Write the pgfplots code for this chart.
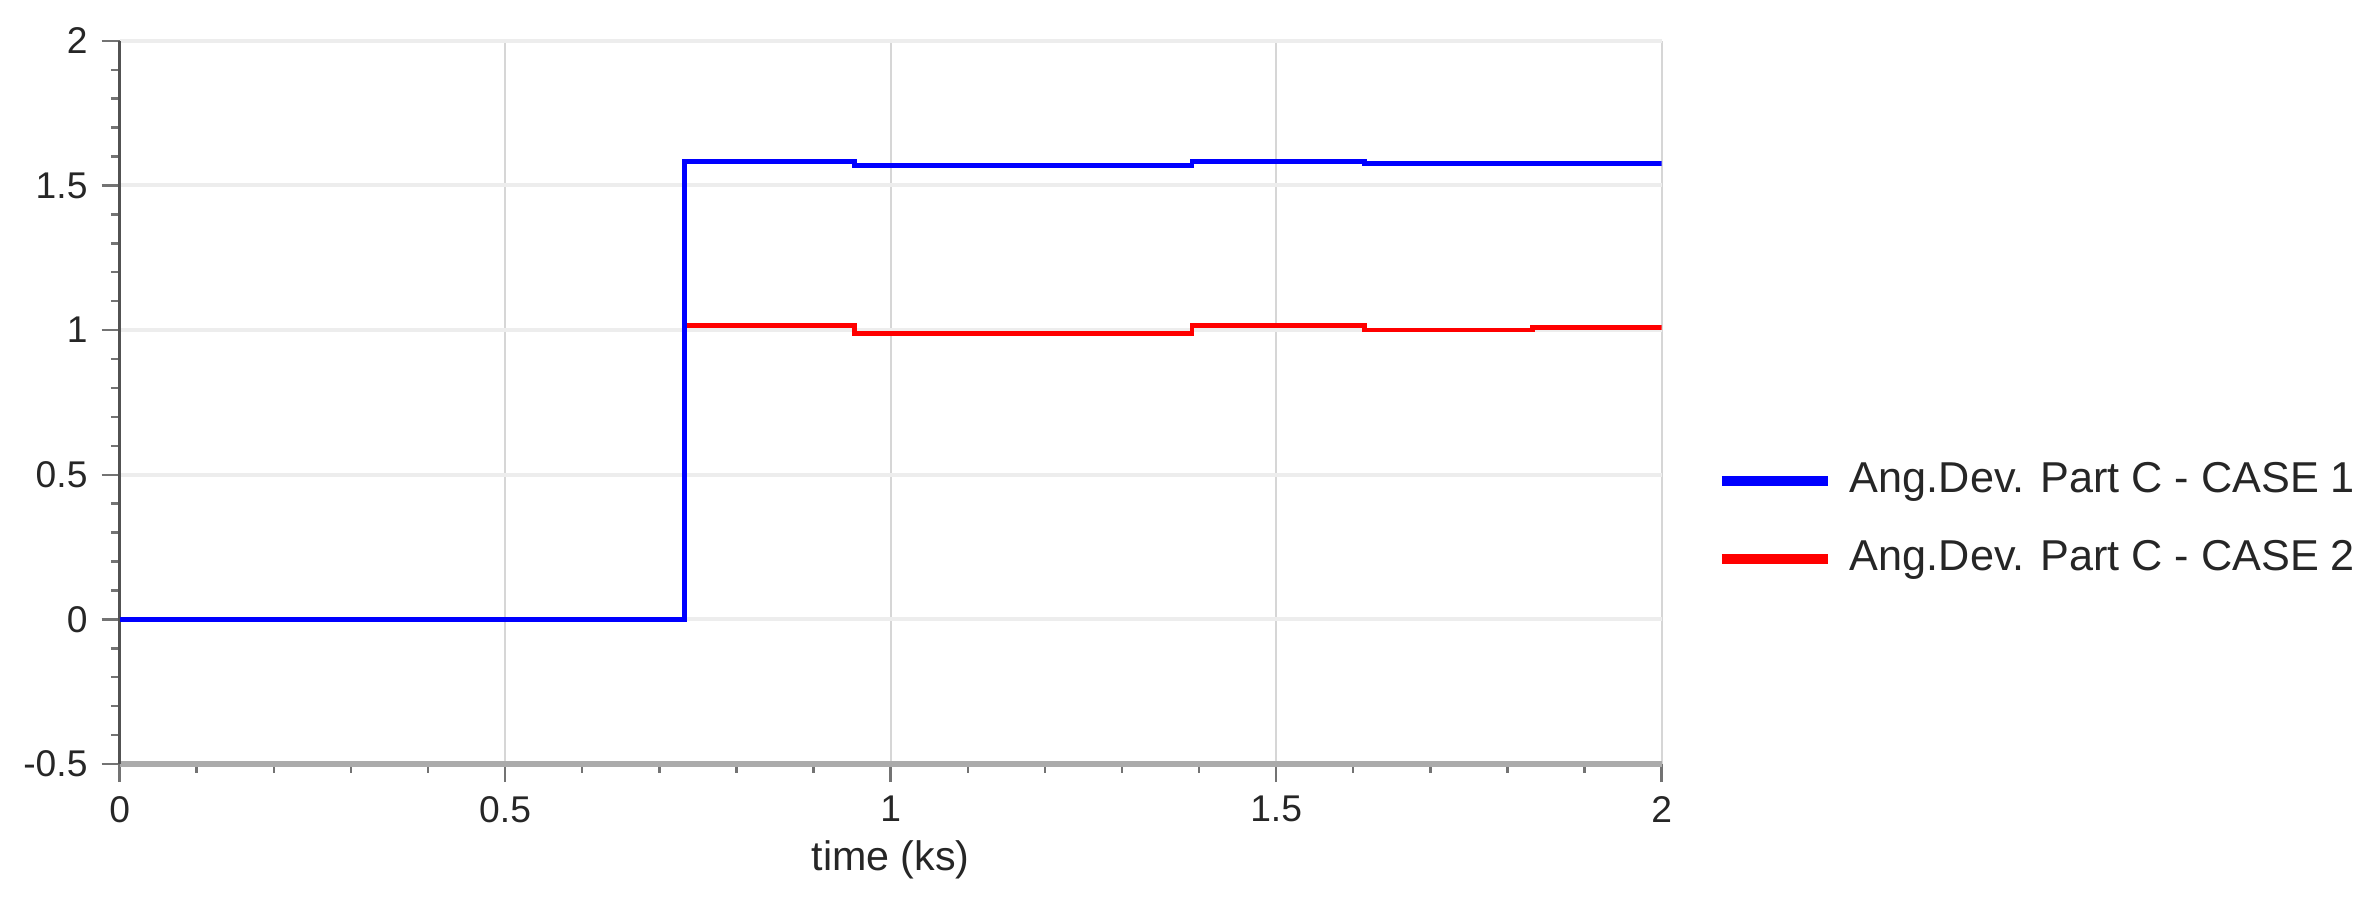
\documentclass[border=0pt]{standalone}
\usepackage{fontspec}
\setmainfont{Liberation Sans}
\usepackage{pgfplots}
\pgfplotsset{compat=1.18}
\definecolor{cblue}{RGB}{0,0,255}
\definecolor{cred}{RGB}{255,0,0}
\begin{document}
\begin{tikzpicture}
\path[use as bounding box] (0,0) rectangle (594pt,225.75pt);
\begin{axis}[
  at={(29.9pt,34.75pt)}, anchor=south west,
  scale only axis, width=385.5pt, height=180.8pt,
  xmin=0, xmax=2, ymin=-0.5, ymax=2,
  xtick={0,0.5,1,1.5,2}, ytick={-0.5,0,0.5,1,1.5,2},
  minor x tick num=4, minor y tick num=4,
  axis x line*=bottom, axis y line*=left,
  x axis line style={-, color=black!33, line width=1.3pt},
  y axis line style={-, color=black!68, line width=0.8pt},
  tick align=outside,
  major tick length=4.5pt, minor tick length=2.2pt,
  every tick/.style={color=black!55, line width=0.6pt},
  xmajorgrids, ymajorgrids,
  x grid style={color=black!16, line width=0.5pt},
  y grid style={color=black!7, line width=1pt},
  /pgf/number format/assume math mode=true,
  tick label style={font=\fontsize{9.3}{11}\selectfont, color=black!85},
  xlabel={time (ks)},
  xlabel style={at={(axis description cs:0.5,0)}, anchor=center, yshift=-24pt, font=\fontsize{10.3}{12}\selectfont, color=black!85},
  legend style={at={(1.0355,0.337)}, anchor=west, draw=none, fill=none, inner sep=0pt,
    font=\fontsize{10.8}{13}\selectfont, row sep=9.3pt,
    nodes={inner sep=0pt, text height=7.8pt, text depth=2.4pt, text=black!85}},
  legend cell align=left,
  legend image code/.code={\draw[#1, line width=2.4pt] (0pt,0pt) -- (26.5pt,0pt);\path[draw=none] (0pt,0pt) -- (32pt,0pt);},
  reverse legend,
]
\addplot[const plot, color=cred, line width=1.2pt] coordinates {
  (0,0) (0.733,1.015) (0.953,0.989) (1.391,1.015) (1.615,1.000) (1.833,1.009) (2,1.009)
};
\addlegendentry{Ang.Dev. Part C - CASE 2}
\addplot[const plot, color=cblue, line width=1.2pt] coordinates {
  (0,0) (0.733,1.583) (0.953,1.569) (1.391,1.584) (1.615,1.576) (2,1.576)
};
\addlegendentry{Ang.Dev. Part C - CASE 1}
\end{axis}
\end{tikzpicture}
\end{document}
